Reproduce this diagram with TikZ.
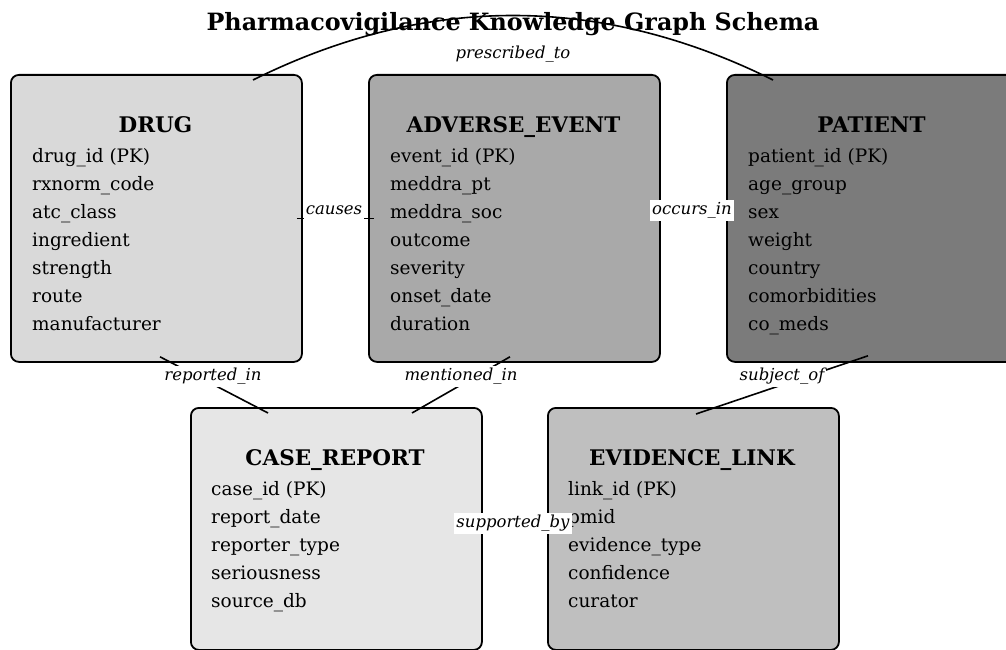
\documentclass[tikz,border=0pt]{standalone}
\usepackage{fontspec}
\setmainfont{DejaVu Serif}
\usetikzlibrary{calc}

\definecolor{drugfill}{HTML}{D9D9D9}
\definecolor{eventfill}{HTML}{A9A9A9}
\definecolor{patientfill}{HTML}{7B7B7B}
\definecolor{reportfill}{HTML}{E6E6E6}
\definecolor{evidencefill}{HTML}{BFBFBF}

\begin{document}
\begin{tikzpicture}[x=1pt,y=1pt,
  entity/.style={draw=black, line width=1.8pt, rounded corners=8pt,
    minimum width=291pt, inner sep=0pt, anchor=north west},
  headline/.style={font=\fontsize{21.5}{21.5}\selectfont\bfseries, anchor=base},
  attr/.style={font=\fontsize{18.5}{18.5}\selectfont, anchor=base west, inner sep=0pt},
  rel/.style={fill=white, inner sep=2pt, text height=12.5pt, text depth=4.5pt,
    font=\fontsize{16.5}{16.5}\selectfont\itshape},
  link/.style={black, line width=1.6pt}]
\useasboundingbox (0,0) rectangle (1006,-650);
\clip (0,0) rectangle (1006,-650);

% title
\node[font=\fontsize{23.8}{23.8}\selectfont\bfseries, anchor=base] (title) at (513,-31) {Pharmacovigilance Knowledge Graph Schema};

% entity boxes
\node[entity, fill=drugfill, minimum height=287pt] (drug) at (10,-74) {};
\node[entity, fill=eventfill, minimum height=287pt] (event) at (368,-74) {};
\node[entity, fill=patientfill, minimum height=287pt] (patient) at (726,-74) {};
\node[entity, fill=reportfill, minimum height=242pt] (report) at (190,-407) {};
\node[entity, fill=evidencefill, minimum height=242pt] (evidence) at (547,-407) {};

% headings
\node[headline] (drughead) at (155.5,-132) {DRUG};
\node[headline] (eventhead) at (513.5,-132) {ADVERSE\_EVENT};
\node[headline] (patienthead) at (871.5,-132) {PATIENT};
\node[headline] (reporthead) at (335,-465) {CASE\_REPORT};
\node[headline] (evidencehead) at (692,-465) {EVIDENCE\_LINK};

% attributes
\foreach \t [count=\i] in {drug\_id (PK), rxnorm\_code, atc\_class, ingredient, strength, route, manufacturer}
  \node[attr] (drug-\i) at (32,-162-28*\i+28) {\t};
\foreach \t [count=\i] in {event\_id (PK), meddra\_pt, meddra\_soc, outcome, severity, onset\_date, duration}
  \node[attr] (event-\i) at (390,-162-28*\i+28) {\t};
\foreach \t [count=\i] in {patient\_id (PK), age\_group, sex, weight, country, comorbidities, co\_meds}
  \node[attr] (patient-\i) at (748,-162-28*\i+28) {\t};
\foreach \t [count=\i] in {case\_id (PK), report\_date, reporter\_type, seriousness, source\_db}
  \node[attr] (report-\i) at (211,-495-28*\i+28) {\t};
\foreach \t [count=\i] in {link\_id (PK), pmid, evidence\_type, confidence, curator}
  \node[attr] (evidence-\i) at (568,-495-28*\i+28) {\t};

% relations
\draw[link] ($(drug.east)+(-6,0)$) -- ($(event.west)+(6,0)$);
\draw[link] ($(event.east)+(-6,0)$) -- ($(patient.west)+(6,0)$);
\draw[link] ($(drug.south west)+(150,6)$) -- ($(report.north west)+(78,-6)$);
\draw[link] ($(event.south west)+(142,6)$) -- ($(report.north west)+(222,-6)$);
\draw[link] ($(patient.south west)+(142,7)$) -- ($(evidence.north west)+(149,-7)$);
\draw[link] ($(report.east)+(-6,0)$) -- ($(evidence.west)+(6,0)$);
\draw[link] ($(drug.north west)+(243,-6)$) .. controls +(173,86) and +(-173,86) .. ($(patient.north west)+(47,-6)$);

% relation labels
\node[rel] (causes) at (334,-210) {causes};
\node[rel] (occurs) at (692,-210) {occurs\_in};
\node[rel] (reported) at (213,-376) {reported\_in};
\node[rel] (mentioned) at (461,-376) {mentioned\_in};
\node[rel] (subject) at (782,-376) {subject\_of};
\node[rel] (supported) at (513,-523) {supported\_by};
\node[rel] (prescribed) at (513,-55) {prescribed\_to};
\end{tikzpicture}
\end{document}
